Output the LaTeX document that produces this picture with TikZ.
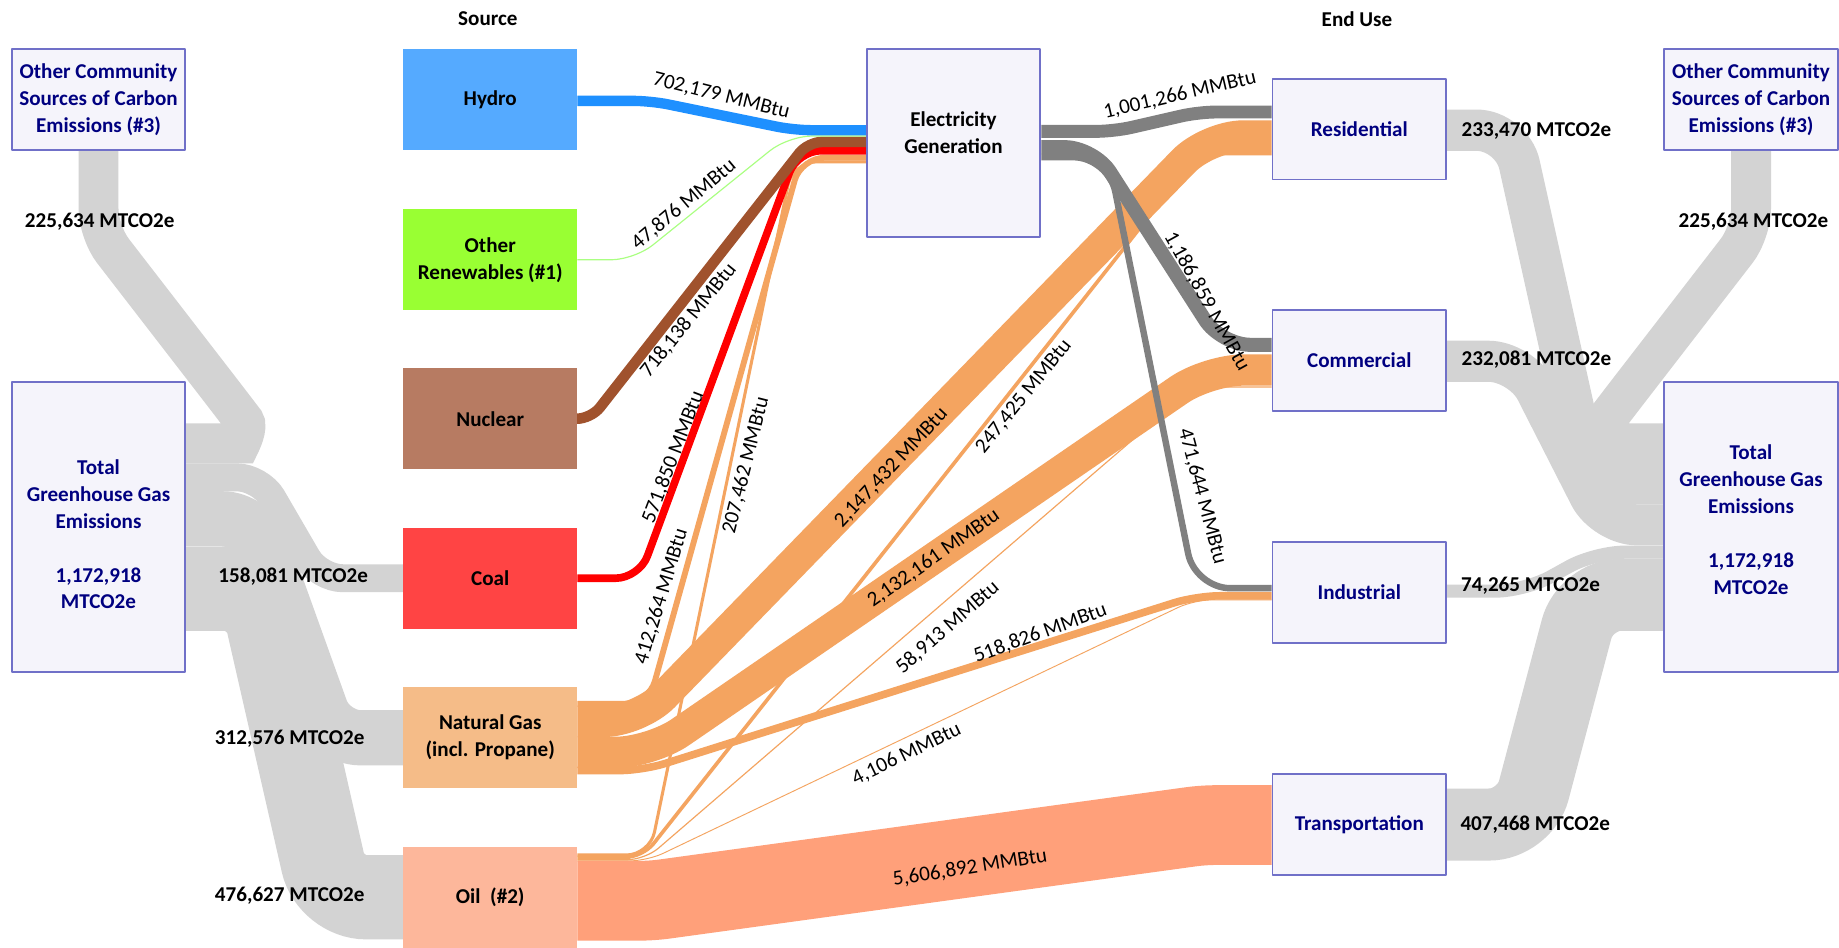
\documentclass[tikz,border=0pt]{standalone}
\usepackage{fontspec}
\setmainfont{Carlito}
\usepackage{tikz}
\usepackage{color}
\definecolor{hydrofill}{RGB}{85, 170, 255}
\definecolor{hydroflow}{RGB}{30, 144, 255}
\definecolor{renewfill}{RGB}{153, 255, 51}
\definecolor{renewflow}{RGB}{170, 255, 130}
\definecolor{nuclearfill}{RGB}{183, 123, 98}
\definecolor{nuclearflow}{RGB}{160, 82, 45}
\definecolor{coalfill}{RGB}{255, 68, 68}
\definecolor{coalflow}{RGB}{255, 0, 0}
\definecolor{gasfill}{RGB}{245, 188, 136}
\definecolor{gasflow}{RGB}{244, 164, 96}
\definecolor{oilfill}{RGB}{253, 183, 155}
\definecolor{oilflow}{RGB}{255, 160, 122}
\definecolor{elecflow}{RGB}{128, 128, 128}
\definecolor{emisflow}{RGB}{211, 211, 211}
\definecolor{boxfill}{RGB}{245, 244, 251}
\definecolor{boxline}{RGB}{112, 112, 200}
\definecolor{navytext}{RGB}{0, 0, 128}
\newcommand{\sankeyboxfont}{\fontsize{18}{23}\selectfont\bfseries}
\newcommand{\sankeylblfont}{\fontsize{18}{22}\selectfont}
\pgfdeclarelayer{flows}
\pgfsetlayers{flows,main}
\tikzset{
  boxtext/.style = {inner sep=0pt, align=center, font=\sankeyboxfont},
  srcbox/.style  = {boxtext, minimum width=148pt, minimum height=86pt},
  usebox/.style  = {srcbox, draw=boxline, line width=1.6pt, fill=boxfill, text=navytext},
  flowlbl/.style = {font=\sankeylblfont, inner sep=0pt},
  emislbl/.style = {font=\sankeylblfont\bfseries, inner sep=0pt},
}
\begin{document}
\begin{tikzpicture}[x=1pt, y=-1pt, line join=round]
            \useasboundingbox (0,0) rectangle (1568,808);
            \node[boxtext]                        (srchead) at (416,16)     {Source};
            \node[boxtext]                        (usehead) at (1157,16)    {End Use};
            \node[usebox]                         (otherL)  at (84,85)      {Other Community\\Sources of Carbon\\Emissions (\#3)};
            \node[usebox, minimum height=247pt, label={[boxtext, text=navytext, yshift=-6pt]center:{Total\\Greenhouse Gas\\Emissions\\[23pt]1,172,918\\MTCO2e}}] (totalL) at (84,449.5) {};
            \node[srcbox, fill=hydrofill]         (hydro)   at (418,85)     {Hydro};
            \node[srcbox, fill=renewfill]         (renew)   at (418,221.5)  {Other\\Renewables (\#1)};
            \node[srcbox, fill=nuclearfill]       (nuclear) at (418,357)    {Nuclear};
            \node[srcbox, fill=coalfill]          (coal)    at (418,493)    {Coal};
            \node[srcbox, fill=gasfill]           (gas)     at (418,629)    {Natural Gas\\(incl. Propane)};
            \node[srcbox, fill=oilfill]           (oil)     at (418,765)    {Oil\ \ (\#2)};
            \node[usebox, minimum height=160pt, label={[boxtext, yshift=9pt]center:{Electricity\\Generation}}] (elec) at (813,122) {};
            \node[usebox]                         (res)     at (1159,110)   {Residential};
            \node[usebox]                         (com)     at (1159,307.5) {Commercial};
            \node[usebox]                         (ind)     at (1159,505)   {Industrial};
            \node[usebox]                         (trans)   at (1159,703)   {Transportation};
            \node[usebox]                         (otherR)  at (1493,85)    {Other Community\\Sources of Carbon\\Emissions (\#3)};
            \node[usebox, minimum height=247pt, label={[boxtext, text=navytext, yshift=6.5pt]center:{Total\\Greenhouse Gas\\Emissions\\[23pt]1,172,918\\MTCO2e}}] (totalR) at (1493,449.5) {};
            \begin{pgfonlayer}{flows}
            \fill[white] (0,0) rectangle (1568,808);
            \draw[emisflow, line width=34pt,   rounded corners=20] (otherL.south) -- (84,198) -- (196,343) .. controls (212,364) and (205,378) .. (185,378) -- (totalL.east |- 0,378);
            \draw[emisflow, line width=23.8pt, rounded corners=20] (totalL.east |- 0,407)   -- (222,407)   -- (272,493)    -- (coal.west);
            \draw[emisflow, line width=47.1pt, rounded corners=25] (totalL.east |- 0,442.4) -- (215,442.4) -- (282,629)    -- (gas.west);
            \draw[emisflow, line width=71.8pt, rounded corners=30] (totalL.east |- 0,502)   -- (222,502)   -- (282,765)    -- (oil.west);
            \draw[emisflow, line width=34pt,   rounded corners=20] (otherR.south) -- (1493,198) -- (1381,343) .. controls (1365,364) and (1372,378) .. (1392,378) -- (totalR.west |- 0,378);
            \draw[emisflow, line width=35.2pt, rounded corners=30] (res.east |- 0,111)      -- (1289,111)  -- (1356,412.4) -- (totalR.west |- 0,412.4);
            \draw[emisflow, line width=35pt,   rounded corners=28] (com.east |- 0,308)      -- (1297,308)  -- (1368,447.5) -- (totalR.west |- 0,447.5);
            \draw[emisflow, line width=11.2pt, rounded corners=25] (ind.east |- 0,504)      -- (1300,504)  -- (1360,470.8) -- (totalR.west |- 0,470.8);
            \draw[emisflow, line width=61.4pt, rounded corners=30] (trans.east)             -- (1300,703)  -- (1352,507.1) -- (totalR.west |- 0,507.1);
            \draw[gasflow,  line width=26.8pt, rounded corners=30] (gas.east |- 0,615)      -- (545,615)   -- (1030,116)   -- (res.west |- 0,116);
            \draw[gasflow,  line width=26.7pt, rounded corners=30] (gas.east |- 0,641.5)    -- (555,641.5) -- (1030,315.5) -- (com.west |- 0,315.5);
            \draw[gasflow,  line width=6.5pt,  rounded corners=20] (gas.east |- 0,657)      -- (548,657)   -- (1020,508)   -- (ind.west |- 0,508);
            \draw[gasflow,  line width=5pt,    rounded corners=20] (gas.east |- 0,600)      -- (553,600)   -- (683,134.5)  -- (elec.west |- 0,134.5);
            \draw[gasflow,  line width=2.6pt,  rounded corners=20] (oil.east |- 0,729)      -- (554,729)   -- (676,138)    -- (elec.west |- 0,138);
            \draw[gasflow,  line width=3.1pt,  rounded corners=15] (oil.east |- 0,731)      -- (548,731)   -- (1022,131)   -- (res.west |- 0,131);
            \draw[gasflow,  line width=1pt,    rounded corners=15] (oil.east |- 0,733)      -- (550,733)   -- (1018,330)   -- (com.west |- 0,330);
            \draw[gasflow,  line width=0.8pt,  rounded corners=15] (oil.east |- 0,734)      -- (552,734)   -- (1018,511.5) -- (ind.west |- 0,511.5);
            \draw[oilflow,  line width=68pt,   rounded corners=10] (oil.east |- 0,768)      -- (556,768)   -- (1026,703.5) -- (trans.west |- 0,703.5);
            \draw[coalflow,    line width=6.5pt, rounded corners=20] (coal.east)            -- (545,493)   -- (680,128.5)  -- (elec.west |- 0,128.5);
            \draw[nuclearflow, line width=9pt,   rounded corners=12] (nuclear.east)         -- (504,357)   -- (689,121)    -- (elec.west |- 0,121);
            \draw[renewflow,   line width=1pt,   rounded corners=20] (renew.east)           -- (541,221.5) -- (672,116)    -- (elec.west |- 0,116);
            \draw[hydroflow,   line width=8.8pt, rounded corners=15] (hydro.east |- 0,86)   -- (555,86)    -- (677,111)    -- (elec.west |- 0,111);
            \draw[elecflow, line width=11pt,   rounded corners=15] (elec.east |- 0,112)     -- (950,112)   -- (1022,95.5)  -- (res.west |- 0,95.5);
            \draw[elecflow, line width=12pt,   rounded corners=25] (elec.east |- 0,125.5)   -- (933,125.5) -- (1041,294)   -- (com.west |- 0,294);
            \draw[elecflow, line width=5.5pt,  rounded corners=30] (elec.east |- 0,134)     -- (945,134)   -- (1019,501.5) -- (ind.west |- 0,501.5);
            \end{pgfonlayer}
            \node[flowlbl, rotate=-14] (lhydro)    at (615,82)    {702,179 MMBtu};
            \node[flowlbl, rotate=40]  (lrenew)    at (583,174.5) {47,876 MMBtu};
            \node[flowlbl, rotate=51]  (lnuclear)  at (587,273)   {718,138 MMBtu};
            \node[flowlbl, rotate=69]  (lcoal)     at (574,390)   {571,850 MMBtu};
            \node[flowlbl, rotate=73]  (lgaselec)  at (564,508.6) {412,264 MMBtu};
            \node[flowlbl, rotate=76]  (loilelec)  at (636,397)   {207,462 MMBtu};
            \node[flowlbl, rotate=47]  (lgasres)   at (760,399)   {2,147,432 MMBtu};
            \node[flowlbl, rotate=51]  (loilres)   at (873,338)   {247,425 MMBtu};
            \node[flowlbl, rotate=35]  (lgascom)   at (796,476)   {2,132,161 MMBtu};
            \node[flowlbl, rotate=41]  (loilcom)   at (808,535)   {58,913 MMBtu};
            \node[flowlbl, rotate=20]  (lgasind)   at (887,540)   {518,826 MMBtu};
            \node[flowlbl, rotate=26]  (loilind)   at (773,643)   {4,106 MMBtu};
            \node[flowlbl, rotate=9]   (loiltrans) at (827,740)   {5,606,892 MMBtu};
            \node[flowlbl, rotate=13]  (lelecres)  at (1006,81)   {1,001,266 MMBtu};
            \node[flowlbl, rotate=-61] (lleccom)   at (1029,257)  {1,186,859 MMBtu};
            \node[flowlbl, rotate=-75] (lelecind)  at (1025,423)  {471,644 MMBtu};
            \node[emislbl] (lotherL)  at (85,189)   {225,634 MTCO2e};
            \node[emislbl] (lcoalem)  at (250,492)  {158,081 MTCO2e};
            \node[emislbl] (lgasem)   at (247,630)  {312,576 MTCO2e};
            \node[emislbl] (loilem)   at (247,764)  {476,627 MTCO2e};
            \node[emislbl] (lresem)   at (1310,112) {233,470 MTCO2e};
            \node[emislbl] (lcomem)   at (1310,307) {232,081 MTCO2e};
            \node[emislbl] (lindem)   at (1305,499) {74,265 MTCO2e};
            \node[emislbl] (ltransem) at (1309,703) {407,468 MTCO2e};
            \node[emislbl] (lotherR)  at (1495,189) {225,634 MTCO2e};
        \end{tikzpicture}
\end{document}
